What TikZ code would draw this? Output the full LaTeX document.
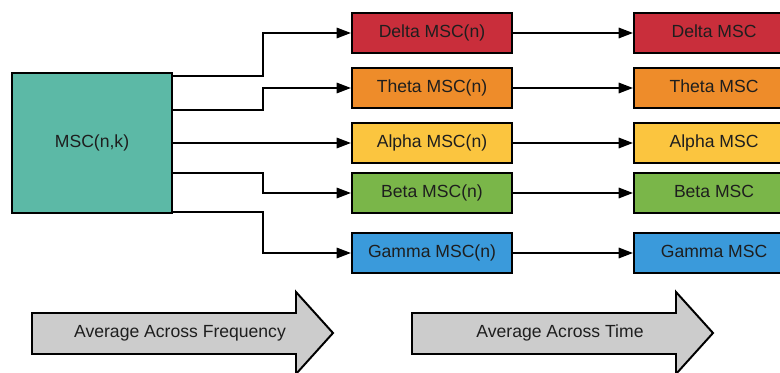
\documentclass[tikz,border=0pt]{standalone}
\usepackage{fontspec}
\setmainfont{Liberation Sans}
\usetikzlibrary{arrows.meta, positioning}
\definecolor{cteal}{HTML}{5CB9A6}
\definecolor{cred}{HTML}{C92E3B}
\definecolor{corange}{HTML}{EE8C2A}
\definecolor{cyellow}{HTML}{FBC53F}
\definecolor{cgreen}{HTML}{7AB649}
\definecolor{cblue}{HTML}{3A9ADB}
\definecolor{cgrey}{HTML}{CCCCCC}
\definecolor{ctext}{HTML}{1E1E1E}
\tikzset{
  every picture/.style={line width=1.4pt},
  box/.style={draw=black, fill=#1, minimum width=4cm, minimum height=1cm, inner sep=0pt, text height=9pt, text depth=3pt, font=\fontsize{12.5}{15}\selectfont, text=ctext},
  box/.default=cgrey,
  arrow/.style={-{Triangle[length=3.6mm, width=2.6mm]}, draw=black},
  process/.style={draw=black, fill=cgrey, line join=miter},
  note/.style={font=\fontsize{12.5}{15}\selectfont, text=ctext},
}

\begin{document}
\begin{tikzpicture}[x=0.025cm, y=-0.025cm]
  \clip (0,0) rectangle (780,373);
  % source block
  \node[box=cteal, minimum height=3.5cm] (msc) at (92,143) {MSC(n,k)};
  % bands, averaged across frequency
  \node[box=cred] (delta) at (432,33) {Delta MSC(n)};
  \node[box=corange] (theta) at (432,88) {Theta MSC(n)};
  \node[box=cyellow] (alpha) at (432,143) {Alpha MSC(n)};
  \node[box=cgreen] (beta) at (432,193) {Beta MSC(n)};
  \node[box=cblue] (gamma) at (432,253) {Gamma MSC(n)};
  % bands, averaged across time
  \node[box=cred, right=3cm of delta] (deltaavg) {Delta MSC};
  \node[box=corange, right=3cm of theta] (thetaavg) {Theta MSC};
  \node[box=cyellow, right=3cm of alpha] (alphaavg) {Alpha MSC};
  \node[box=cgreen, right=3cm of beta] (betaavg) {Beta MSC};
  \node[box=cblue, right=3cm of gamma] (gammaavg) {Gamma MSC};
  % branches out of the source block
  \draw[arrow] ([yshift=-0.1cm]msc.north east) -- ++(90,0) |- (delta);
  \draw[arrow] ([yshift=0.825cm]msc.east) -- ++(90,0) |- (theta);
  \draw[arrow] (msc) -- (alpha);
  \draw[arrow] ([yshift=-0.75cm]msc.east) -- ++(90,0) |- (beta);
  \draw[arrow] ([yshift=0.05cm]msc.south east) -- ++(90,0) |- (gamma);
  \foreach \band in {delta,theta,alpha,beta,gamma}
    \draw[arrow] (\band) -- (\band avg);
  % process arrows underneath
  \draw[process] (32,313) -- (296,313) -- (296,292) -- (333,333) -- (296,374) -- (296,354) -- (32,354) -- cycle;
  \node[note] (freq) at (180,333) {Average Across Frequency};
  \draw[process] (412,313) -- (676,313) -- (676,292) -- (713,333) -- (676,374) -- (676,354) -- (412,354) -- cycle;
  \node[note] (time) at (560,333) {Average Across Time};
\end{tikzpicture}
\end{document}
